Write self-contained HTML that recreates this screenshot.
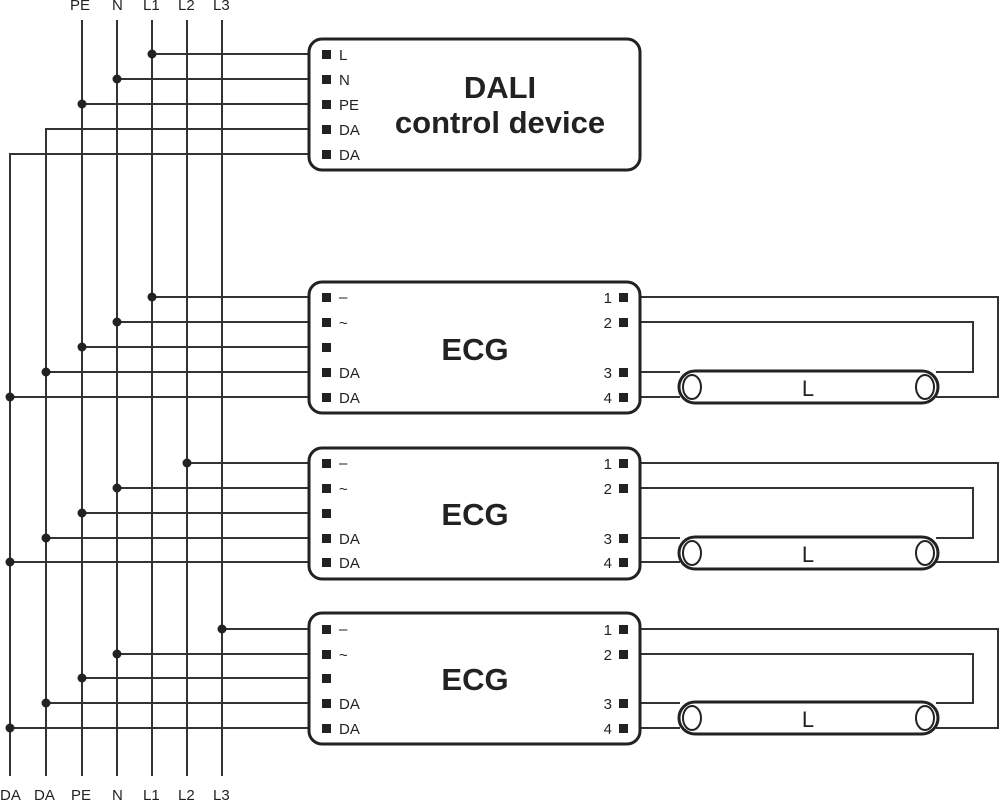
<!DOCTYPE html>
<html><head><meta charset="utf-8"><style>
html,body{margin:0;padding:0;background:#fff;}
svg{display:block;}
text{font-family:"Liberation Sans",sans-serif;fill:#222;}
</style></head><body>
<svg width="1000" height="801" viewBox="0 0 1000 801" xmlns="http://www.w3.org/2000/svg">
<g stroke="#333" stroke-width="2" fill="none">
<line x1="82" y1="20" x2="82" y2="776"/>
<line x1="117" y1="20" x2="117" y2="776"/>
<line x1="152" y1="20" x2="152" y2="776"/>
<line x1="187" y1="20" x2="187" y2="776"/>
<line x1="222" y1="20" x2="222" y2="776"/>
<polyline points="316,129 46,129 46,776"/>
<polyline points="316,154 10,154 10,776"/>
<line x1="152" y1="54" x2="316" y2="54"/>
<line x1="117" y1="79" x2="316" y2="79"/>
<line x1="82" y1="104" x2="316" y2="104"/>
<line x1="152" y1="297" x2="316" y2="297"/>
<line x1="117" y1="322" x2="316" y2="322"/>
<line x1="82" y1="347" x2="316" y2="347"/>
<line x1="46" y1="372" x2="316" y2="372"/>
<line x1="10" y1="397" x2="316" y2="397"/>
<line x1="187" y1="463" x2="316" y2="463"/>
<line x1="117" y1="488" x2="316" y2="488"/>
<line x1="82" y1="513" x2="316" y2="513"/>
<line x1="46" y1="538" x2="316" y2="538"/>
<line x1="10" y1="562" x2="316" y2="562"/>
<line x1="222" y1="629" x2="316" y2="629"/>
<line x1="117" y1="654" x2="316" y2="654"/>
<line x1="82" y1="678" x2="316" y2="678"/>
<line x1="46" y1="703" x2="316" y2="703"/>
<line x1="10" y1="728" x2="316" y2="728"/>
<polyline points="628,297 998,297 998,397 936,397"/>
<polyline points="628,322 973,322 973,372 936,372"/>
<line x1="628" y1="372" x2="680" y2="372"/>
<line x1="628" y1="397" x2="680" y2="397"/>
<polyline points="628,463 998,463 998,562 936,562"/>
<polyline points="628,488 973,488 973,538 936,538"/>
<line x1="628" y1="538" x2="680" y2="538"/>
<line x1="628" y1="562" x2="680" y2="562"/>
<polyline points="628,629 998,629 998,728 936,728"/>
<polyline points="628,654 973,654 973,703 936,703"/>
<line x1="628" y1="703" x2="680" y2="703"/>
<line x1="628" y1="728" x2="680" y2="728"/>
</g>
<g stroke="#222" stroke-width="3" fill="#fff">
<rect x="309" y="39" width="331" height="131" rx="13"/>
<rect x="309" y="282" width="331" height="131" rx="13"/>
<rect x="309" y="448" width="331" height="131" rx="13"/>
<rect x="309" y="613" width="331" height="131" rx="13"/>
<rect x="679" y="371" width="259" height="32" rx="16"/>
<rect x="679" y="537" width="259" height="32" rx="16"/>
<rect x="679" y="702" width="259" height="32" rx="16"/>
</g>
<g stroke="#222" stroke-width="2" fill="none">
<ellipse cx="692" cy="387" rx="9" ry="12"/><ellipse cx="925" cy="387" rx="9" ry="12"/>
<ellipse cx="692" cy="553" rx="9" ry="12"/><ellipse cx="925" cy="553" rx="9" ry="12"/>
<ellipse cx="692" cy="718" rx="9" ry="12"/><ellipse cx="925" cy="718" rx="9" ry="12"/>
</g>
<g fill="#222">
<circle cx="152" cy="54" r="4.5"/><circle cx="117" cy="79" r="4.5"/><circle cx="82" cy="104" r="4.5"/>
<circle cx="152" cy="297" r="4.5"/><circle cx="117" cy="322" r="4.5"/><circle cx="82" cy="347" r="4.5"/><circle cx="46" cy="372" r="4.5"/><circle cx="10" cy="397" r="4.5"/>
<circle cx="187" cy="463" r="4.5"/><circle cx="117" cy="488" r="4.5"/><circle cx="82" cy="513" r="4.5"/><circle cx="46" cy="538" r="4.5"/><circle cx="10" cy="562" r="4.5"/>
<circle cx="222" cy="629" r="4.5"/><circle cx="117" cy="654" r="4.5"/><circle cx="82" cy="678" r="4.5"/><circle cx="46" cy="703" r="4.5"/><circle cx="10" cy="728" r="4.5"/>
<rect x="322" y="50" width="9" height="9"/><rect x="322" y="75" width="9" height="9"/><rect x="322" y="100" width="9" height="9"/><rect x="322" y="125" width="9" height="9"/><rect x="322" y="150" width="9" height="9"/>
<rect x="322" y="293" width="9" height="9"/><rect x="322" y="318" width="9" height="9"/><rect x="322" y="343" width="9" height="9"/><rect x="322" y="368" width="9" height="9"/><rect x="322" y="393" width="9" height="9"/>
<rect x="322" y="459" width="9" height="9"/><rect x="322" y="484" width="9" height="9"/><rect x="322" y="509" width="9" height="9"/><rect x="322" y="534" width="9" height="9"/><rect x="322" y="558" width="9" height="9"/>
<rect x="322" y="625" width="9" height="9"/><rect x="322" y="650" width="9" height="9"/><rect x="322" y="674" width="9" height="9"/><rect x="322" y="699" width="9" height="9"/><rect x="322" y="724" width="9" height="9"/>
<rect x="619" y="293" width="9" height="9"/><rect x="619" y="318" width="9" height="9"/><rect x="619" y="368" width="9" height="9"/><rect x="619" y="393" width="9" height="9"/>
<rect x="619" y="459" width="9" height="9"/><rect x="619" y="484" width="9" height="9"/><rect x="619" y="534" width="9" height="9"/><rect x="619" y="558" width="9" height="9"/>
<rect x="619" y="625" width="9" height="9"/><rect x="619" y="650" width="9" height="9"/><rect x="619" y="699" width="9" height="9"/><rect x="619" y="724" width="9" height="9"/>
</g>
<g font-size="15">
<text x="70" y="10">PE</text><text x="112" y="10">N</text><text x="143" y="10">L1</text><text x="178" y="10">L2</text><text x="213" y="10">L3</text>
<text x="0" y="800">DA</text><text x="34" y="800">DA</text><text x="71" y="800">PE</text><text x="112" y="800">N</text><text x="143" y="800">L1</text><text x="178" y="800">L2</text><text x="213" y="800">L3</text>
<text x="339" y="60">L</text><text x="339" y="85">N</text><text x="339" y="110">PE</text><text x="339" y="135">DA</text><text x="339" y="160">DA</text>
<text x="339" y="302">–</text><text x="339" y="328">~</text><text x="339" y="378">DA</text><text x="339" y="403">DA</text>
<text x="339" y="468">–</text><text x="339" y="494">~</text><text x="339" y="544">DA</text><text x="339" y="568">DA</text>
<text x="339" y="634">–</text><text x="339" y="660">~</text><text x="339" y="709">DA</text><text x="339" y="734">DA</text>
<g text-anchor="end">
<text x="612" y="303">1</text><text x="612" y="328">2</text><text x="612" y="378">3</text><text x="612" y="403">4</text>
<text x="612" y="469">1</text><text x="612" y="494">2</text><text x="612" y="544">3</text><text x="612" y="568">4</text>
<text x="612" y="635">1</text><text x="612" y="660">2</text><text x="612" y="709">3</text><text x="612" y="734">4</text>
</g>
</g>
<g font-size="22" text-anchor="middle">
<text x="808" y="396">L</text><text x="808" y="562">L</text><text x="808" y="727">L</text>
</g>
<g font-size="31" font-weight="bold" text-anchor="middle">
<text x="500" y="98">DALI</text>
<text x="500" y="133">control device</text>
<text x="475" y="360">ECG</text>
<text x="475" y="525">ECG</text>
<text x="475" y="690">ECG</text>
</g>
</svg>
</body></html>
